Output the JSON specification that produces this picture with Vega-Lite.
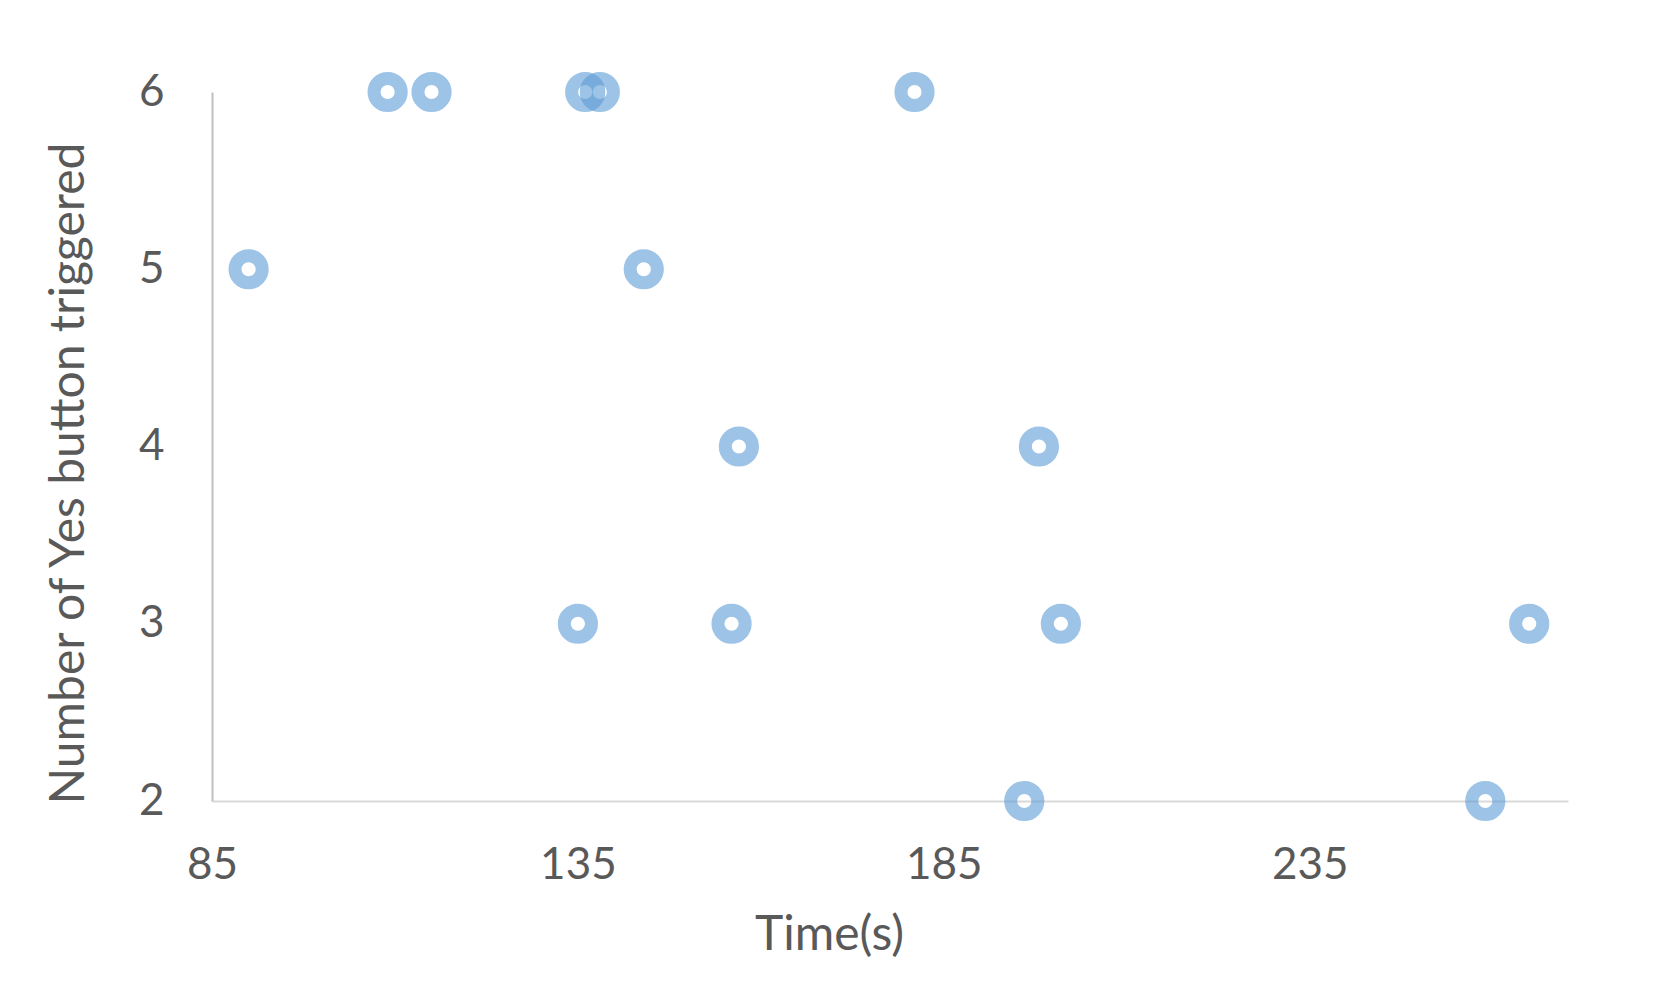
{
  "$schema": "https://vega.github.io/schema/vega-lite/v6.json",
  "autosize": "none",
  "width": 1356,
  "height": 709,
  "padding": {"left": 212, "top": 92, "right": 85, "bottom": 192},
  "background": "white",
  "data": {"values": [
    {"time": 90, "yes": 5},
    {"time": 109, "yes": 6},
    {"time": 115, "yes": 6},
    {"time": 136, "yes": 6},
    {"time": 138, "yes": 6},
    {"time": 181, "yes": 6},
    {"time": 144, "yes": 5},
    {"time": 157, "yes": 4},
    {"time": 198, "yes": 4},
    {"time": 135, "yes": 3},
    {"time": 156, "yes": 3},
    {"time": 201, "yes": 3},
    {"time": 265, "yes": 3},
    {"time": 196, "yes": 2},
    {"time": 259, "yes": 2}
  ]},
  "mark": {"type": "point", "shape": "circle", "filled": false, "size": 740, "strokeWidth": 13, "stroke": "#5B9BD5", "opacity": 1, "strokeOpacity": 0.6, "clip": false},
  "encoding": {
    "x": {
      "field": "time", "type": "quantitative",
      "scale": {"domain": [85, 270.3], "nice": false, "zero": false},
      "axis": {
        "title": "Time(s)", "values": [85, 135, 185, 235], "grid": false, "ticks": false,
        "domainColor": "#D9D9D9", "domainWidth": 2,
        "labelFont": "Lato", "labelFontSize": 44, "labelColor": "#595959", "labelPadding": 42,
        "labelFlush": false,
        "titleFont": "Lato", "titleFontSize": 48, "titleColor": "#595959", "titleFontWeight": "normal",
        "titleX": 617, "titleY": 148, "titleBaseline": "alphabetic", "titleAnchor": "middle", "titleAlign": "center"
      }
    },
    "y": {
      "field": "yes", "type": "quantitative",
      "scale": {"domain": [2, 6], "nice": false, "zero": false},
      "axis": {
        "title": "Number of Yes button triggered", "values": [2, 3, 4, 5, 6], "grid": false, "ticks": false,
        "domainColor": "#BFBFBF", "domainWidth": 2,
        "labelFont": "Lato", "labelFontSize": 44, "labelColor": "#595959", "labelPadding": 48,
        "labelFlush": false,
        "titleFont": "Lato", "titleFontSize": 48, "titleColor": "#595959", "titleFontWeight": "normal",
        "titleAngle": -90, "titleX": -129, "titleY": 381, "titleBaseline": "alphabetic", "titleAlign": "center"
      }
    }
  },
  "config": {"view": {"stroke": null}}
}
